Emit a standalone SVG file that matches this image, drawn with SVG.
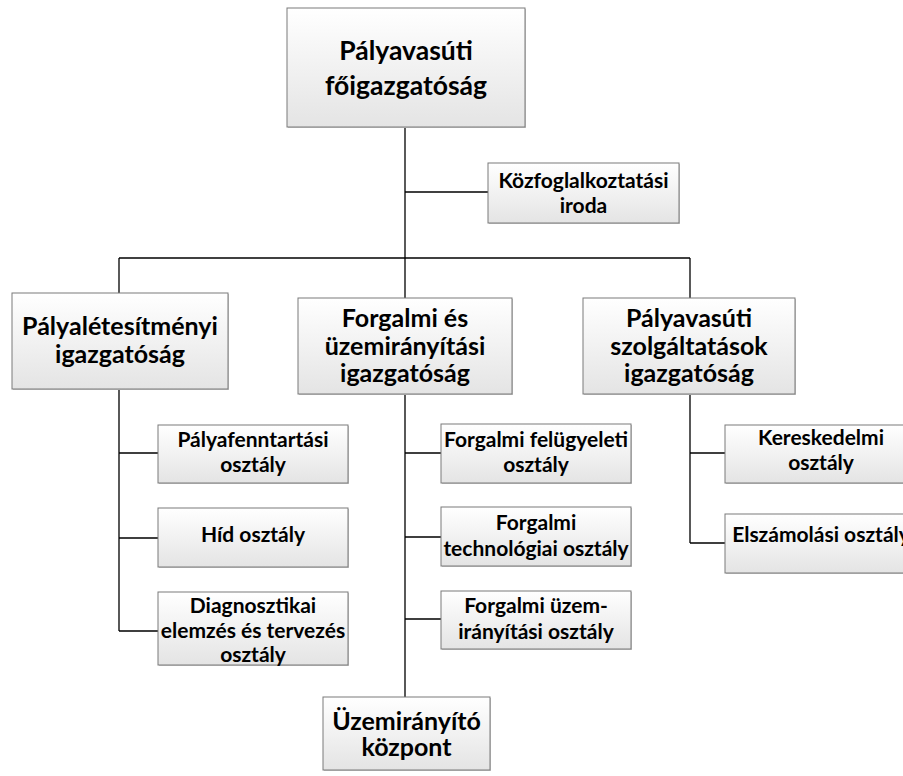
<svg xmlns="http://www.w3.org/2000/svg" width="903" height="776" viewBox="0 0 903 776">
  <defs>
    <linearGradient id="boxFill" x1="0" y1="0" x2="0" y2="1">
      <stop offset="0" stop-color="#ffffff"/>
      <stop offset="1" stop-color="#e4e4e4"/>
    </linearGradient>
  </defs>
  <style>
    .box { fill: url(#boxFill); stroke: #7a7a7a; stroke-width: 1; }
    .shadow { fill: #c8c8c8; }
    .lbl { font-family: Lato, "Liberation Sans", sans-serif; font-weight: 700; fill: #000; text-anchor: middle; }
    .t1 { font-size: 26.5px; }
    .t2 { font-size: 25px; }
    .t3 { font-size: 21px; }
    .conn { fill: none; stroke: #000; stroke-width: 1.3; }
  </style>
  <rect width="903" height="776" fill="#ffffff"/>

  <!-- connectors -->
  <g id="connectors" class="conn">
    <path d="M405,127 V298"/>
    <path d="M405,192 H488"/>
    <path d="M119,258 H690"/>
    <path d="M119,258 V293"/>
    <path d="M690,258 V298"/>
    <path d="M119,389 V631 M119,453 H158 M119,538 H158 M119,631 H158"/>
    <path d="M405,394 V697 M405,453 H441 M405,537 H441 M405,619 H441"/>
    <path d="M690,394 V543 M690,453 H725 M690,543 H725"/>
  </g>

  <g id="n-fo">
    <rect class="shadow" x="288" y="9" width="238" height="119"/>
    <rect class="box" x="287" y="8" width="238" height="119"/>
    <text class="lbl t1" x="406" y="60">Pályavasúti</text>
    <text class="lbl t1" x="406" y="95">főigazgatóság</text>
  </g>

  <g id="n-kozfog">
    <rect class="shadow" x="489" y="164" width="191" height="60"/>
    <rect class="box" x="488" y="163" width="191" height="60"/>
    <text class="lbl t3" x="583.5" y="188">Közfoglalkoztatási</text>
    <text class="lbl t3" x="583.5" y="213">iroda</text>
  </g>

  <g id="n-palyalet">
    <rect class="shadow" x="13" y="294" width="216" height="96"/>
    <rect class="box" x="12" y="293" width="216" height="96"/>
    <text class="lbl t2" x="120" y="335">Pályalétesítményi</text>
    <text class="lbl t2" x="120" y="363">igazgatóság</text>
  </g>

  <g id="n-forgalmi">
    <rect class="shadow" x="299" y="299" width="214" height="96"/>
    <rect class="box" x="298" y="298" width="214" height="96"/>
    <text class="lbl t2" x="405" y="327">Forgalmi és</text>
    <text class="lbl t2" x="405" y="355">üzemirányítási</text>
    <text class="lbl t2" x="405" y="382">igazgatóság</text>
  </g>

  <g id="n-szolg">
    <rect class="shadow" x="584" y="299" width="212" height="96"/>
    <rect class="box" x="583" y="298" width="212" height="96"/>
    <text class="lbl t2" x="689" y="327">Pályavasúti</text>
    <text class="lbl t2" x="689" y="355">szolgáltatások</text>
    <text class="lbl t2" x="689" y="382">igazgatóság</text>
  </g>

  <g id="n-palyafenn">
    <rect class="shadow" x="159" y="426" width="190" height="58"/>
    <rect class="box" x="158" y="425" width="190" height="58"/>
    <text class="lbl t3" x="253" y="447">Pályafenntartási</text>
    <text class="lbl t3" x="253" y="472">osztály</text>
  </g>

  <g id="n-hid">
    <rect class="shadow" x="159" y="509" width="190" height="59"/>
    <rect class="box" x="158" y="508" width="190" height="59"/>
    <text class="lbl t3" x="253" y="542">Híd osztály</text>
  </g>

  <g id="n-diag">
    <rect class="shadow" x="159" y="593" width="190" height="73"/>
    <rect class="box" x="158" y="592" width="190" height="73"/>
    <text class="lbl t3" x="253" y="613">Diagnosztikai</text>
    <text class="lbl t3" x="253" y="638">elemzés és tervezés</text>
    <text class="lbl t3" x="253" y="662">osztály</text>
  </g>

  <g id="n-felugy">
    <rect class="shadow" x="442" y="425" width="190" height="59"/>
    <rect class="box" x="441" y="424" width="190" height="59"/>
    <text class="lbl t3" x="536" y="447">Forgalmi felügyeleti</text>
    <text class="lbl t3" x="536" y="472">osztály</text>
  </g>

  <g id="n-techn">
    <rect class="shadow" x="442" y="508" width="190" height="59"/>
    <rect class="box" x="441" y="507" width="190" height="59"/>
    <text class="lbl t3" x="536" y="530">Forgalmi</text>
    <text class="lbl t3" x="536" y="556">technológiai osztály</text>
  </g>

  <g id="n-uzemir-oszt">
    <rect class="shadow" x="442" y="592" width="190" height="58"/>
    <rect class="box" x="441" y="591" width="190" height="58"/>
    <text class="lbl t3" x="536" y="613">Forgalmi üzem-</text>
    <text class="lbl t3" x="536" y="639">irányítási osztály</text>
  </g>

  <g id="n-kozpont">
    <rect class="shadow" x="324" y="698" width="167" height="73"/>
    <rect class="box" x="323" y="697" width="167" height="73"/>
    <text class="lbl t2" x="406.5" y="730">Üzemirányító</text>
    <text class="lbl t2" x="406.5" y="756">központ</text>
  </g>

  <g id="n-keresk">
    <rect class="shadow" x="726" y="426" width="192" height="58"/>
    <rect class="box" x="725" y="425" width="192" height="58"/>
    <text class="lbl t3" x="821" y="445">Kereskedelmi</text>
    <text class="lbl t3" x="821" y="470">osztály</text>
  </g>

  <g id="n-elszam">
    <rect class="shadow" x="726" y="515" width="192" height="59"/>
    <rect class="box" x="725" y="514" width="192" height="59"/>
    <text class="lbl t3" x="821" y="542">Elszámolási osztály</text>
  </g>
</svg>
